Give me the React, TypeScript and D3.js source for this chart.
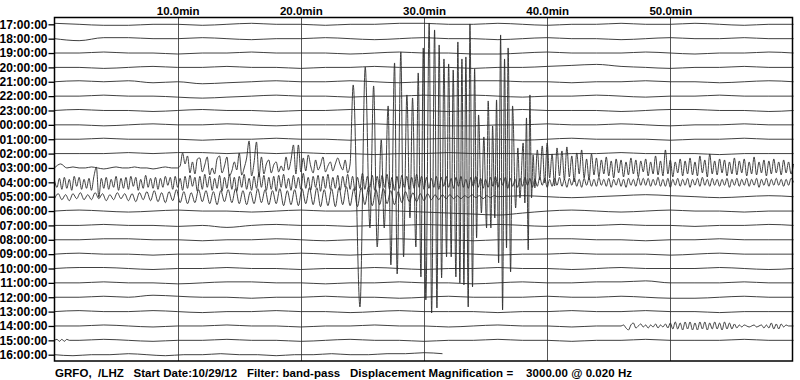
import { useEffect, useRef } from "react";
import * as d3 from "d3";

// hour rows, top to bottom
const hourLabels = [
  "17:00:00", "18:00:00", "19:00:00", "20:00:00", "21:00:00", "22:00:00",
  "23:00:00", "00:00:00", "01:00:00", "02:00:00", "03:00:00", "04:00:00",
  "05:00:00", "06:00:00", "07:00:00", "08:00:00", "09:00:00", "10:00:00",
  "11:00:00", "12:00:00", "13:00:00", "14:00:00", "15:00:00", "16:00:00",
];
const minuteTicks = [10, 20, 30, 40, 50];
const footer =
  "GRFO,  /LHZ   Start Date:10/29/12   Filter: band-pass   Displacement Magnification =    3000.00 @ 0.020 Hz";

// quiet hours, one sample every 2 min (0..60)
const h17 = [1, 0, -1, -1, 0, 0, -1, 0, 1, 0, 0, -1, 0, 0, 1, 1, 0, 0, 1, 0, -1, 0, 0, 1, 0, 0, 1, 0, -1, 0, 0];
const h18 = [0, -2, 1, 1, 0, 0, 1, 0, -1, 0, 0, 1, 0, -1, 0, 1, 0, 0, -1, 0, 1, 0, 0, -1, 0, 1, 0, 0, 1, 0, 0];
const h19 = [0, 0, 1, 0, 0, -1, 0, 0, 1, 0, 0, 0, -1, 0, 1, 0, 0, -1, -1, 0, 1, 0, 0, 0, 1, 0, -1, 0, 0, 1, 0];
const h20 = [0, 0, -1, 0, 1, 0, 0, 1, 0, 0, -1, 0, 0, 1, 0, 0, 0, -1, 0, 0, 1, 2, 3, 1, 0, -1, 0, 0, 1, 0, 0];
const h21 = [0, 1, 0, 1, -1, 0, -2, -1, 0, 1, 0, 0, 1, 0, -1, 0, 0, 1, 1, 0, 0, -1, 0, 0, 1, 0, 0, -1, 0, 1, 0];
const h22 = [0, 0, 1, 0, 0, -1, -2, -1, 0, 1, 0, 0, -1, 0, 0, 1, 0, 1, 0, -1, 0, 0, 1, 0, -1, 0, 0, 1, 0, 0, 0];
const h23 = [0, 1, 0, 0, -1, 0, 1, 0, 0, -1, 0, 0, 1, 1, 0, 0, -1, 0, 0, 1, 0, 0, 0, -1, 0, 1, 1, 0, 0, -1, 0];
const h00 = [0, 0, -1, 0, 1, 0, 0, 1, 0, -1, 0, 0, 0, 1, 0, 0, -1, -1, 0, 0, 1, 0, 0, 1, 0, -1, 0, 0, 1, 0, 0];
const h01 = [0, 0, 1, 0, 0, 0, -1, 0, 0, 1, 0, 0, -1, 0, 0, 0, 1, 0, 0, -1, 0, 1, 0, 0, 0, -1, 0, 0, 1, 0, 0];
const h02 = [0, 0, 0, 1, 0, 1, 1, 0, 1, 0, 1, 0, 0, -1, 0, 0, 1, 0, 0, 0, -1, 0, 0, 1, 0, 0, 0, -1, 0, 0, 0];
const h06 = [0, 1, 0, -1, 0, 1, 0, 0, -1, 0, 1, 0, 0, 1, 0, -1, -2, -3, -4, -2, 0, 1, 0, -1, 0, 1, 0, 0, -1, 0, 0];
const h07 = [0, 0, 1, 0, 0, -1, 0, -2, 0, 1, 0, 0, -1, 0, 0, 1, 0, 0, 1, 0, -1, 0, 0, 1, 0, 0, -1, 0, 0, 1, 0];
const h08 = [0, 0, 1, 1, 0, 0, -1, 0, 0, 1, 0, -1, 0, 0, 1, 0, 0, -1, 0, 0, 1, 1, 0, 0, -1, 0, 0, 1, 0, 0, 0];
const h09 = [0, 1, 0, 0, -1, 0, 0, 1, 0, 0, 1, 0, -1, 0, 0, 0, 1, 0, -1, 0, 0, 1, 0, 0, 0, -1, 0, 1, 0, 0, 0];
const h10 = [0, 1, 1, 0, -1, 0, 0, 1, 0, 0, -1, 0, 0, 1, 0, -1, 0, 0, 1, 0, 0, -1, 0, 1, 0, 0, 0, 1, 0, -1, 0];
const h11 = [0, 0, 1, 0, 0, -1, 0, 1, 1, 0, 0, -1, 0, 0, 1, 0, 0, -1, 0, 1, 0, 0, 1, 1, 2, 0, 0, 0, 1, 0, 0];
const h12 = [0, 0, 1, 0, 2, 1, 0, 0, -1, 0, 0, 1, 0, 0, -1, 0, 1, 0, 0, 0, 1, 0, 0, 1, 0, -1, -1, 0, 1, 0, 0];
const h13 = [0, 1, 0, 0, 1, 0, -1, 0, 0, 1, 0, 0, -1, 0, 1, 0, 0, 0, -1, 0, 0, 1, 0, 0, 1, 0, 0, -1, 0, 0, 0];

// 03:00 hour: quiet start (every 0.5 min, 0..9.5)
const h03quiet = [0, 4, 0, 1, 0, 0, 1, 0, -1, 0, 1, 0, 0, 1, 0, 0, -1, 0, 1, 0];
// 03:00 body waves, every 0.2 min from 10.0
const h03body = [
  0, 2, 15, 4, 12, -5, 6, -6, 9, 10,
  -4, 3, 11, -7, 0, -6, 9, 12, -5, 2,
  11, -8, -3, 6, -2, 15, -7, 0, 10, 27,
  -8, 5, 26, -9, 11, -6, 4, 8, -5, 3,
  6, -4, 2, -3, 11, -2, 8, 23, -6, 23,
  -4, 10, -3, 13, 2, -5, 8, -2, 3, 11,
  -4, 2, 6, -3, 4, 10, 3, -2, 8, -5, 4,
];
// 03:00 surface waves: [minute, displacement] peaks and troughs
const h03surface: [number, number][] = [
  [24.25, 83], [24.8, -139], [25.23, 101], [25.61, -60], [25.91, 82], [26.2, -79],
  [26.53, 28], [26.77, -60], [27.09, 62], [27.31, -97], [27.61, 105], [27.82, -106],
  [28.12, 116], [28.34, -89], [28.61, 73], [28.86, -50], [29.07, 70], [29.34, -79],
  [29.53, 95], [29.75, -109], [29.94, 120], [30.15, -132], [30.42, 145], [30.62, -145],
  [30.86, 138], [31.05, -140], [31.23, 123], [31.43, -110], [31.62, 109], [31.83, -89],
  [32.0, 104], [32.21, -89], [32.37, 98], [32.59, -109], [32.75, 126], [32.91, -115],
  [33.08, 109], [33.24, -117], [33.4, 111], [33.59, -139], [33.73, 144], [33.94, -119],
  [34.11, 99], [34.27, -70], [34.43, 53], [34.66, -45], [34.86, 31], [35.08, -60],
  [35.21, 67], [35.43, -60], [35.57, 42], [35.75, -50], [35.89, 68], [36.06, -95],
  [36.22, 133], [36.38, -142], [36.54, 109], [36.7, -80], [36.83, 120], [37.03, -104],
  [37.19, 62], [37.44, -40], [37.62, 20], [37.79, -30], [38.05, 25], [38.19, -35],
  [38.32, 50], [38.46, -82], [38.6, 73], [38.73, -30], [38.86, 13], [39.0, -20],
];
// 03:00 coda, every 0.2 min from 39.2
const h03coda = [
  18, -12, 22, -15, 25, -10, 14, -18, 20, -8,
  17, -12, 21, -9, 12, -14, 15, -6, 18, -10,
  9, -12, 14, -7, 10, -9, 8, -6, 11, -8,
  7, -10, 9, -5, 8, -9, 6, -7, 10, -6,
  8, -9, 7, -4, 9, -8, 6, -6, 12, -7,
  7, -8, 18, -6, 8, -9, 6, -5, 9, -8,
  7, -6, 10, -7, 6, -8, 12, -5, 8, -9,
  14, -6, 7, -7, 9, -5, 8, -8, 6, -6,
  10, -7, 7, -5, 9, -8, 6, -6, 11, -7,
  6, -5, 8, -8, 7, -6, 9, -5, 6, -7,
  8, -5, 6, -6, 4,
];

// 04:00 hour, every 0.2 min (0..60)
const h04 = [
  2, -5, 4, -7, 5, -6, 3, -8, 6, -4,
  5, -7, 3, -6, 4, -8, 6, 15, -15, 4,
  -6, 5, -7, 3, -5, 6, -8, 4, -6, 5,
  -7, 6, -4, 5, -8, 3, -6, 7, -5, 4,
  -6, 5, -7, 4, -5, 6, -3, 5, -7, 6,
  -5, 4, -8, 6, -6, 7, -4, 5, -9, 6,
  -7, 8, -5, 6, -8, 4, -6, 7, -9, 5,
  -6, 8, -7, 5, -9, 6, -5, 8, -7, 4,
  -8, 6, -6, 9, -5, 7, -8, 5, -7, 6,
  -9, 7, -5, 8, -6, 4, -8, 7, -6, 5,
  -7, 9, -6, 5, -8, 6, -5, 7, -9, 6,
  -6, 8, -7, 5, -6, 7, -8, 6, -5, 8,
  -7, 6, -8, 5, -6, 9, -7, 6, -5, 7,
  -8, 6, -6, 7, -5, 8, -7, 5, -8, 6,
  -6, 7, -5, 6, -7, 5, -6, 8, -5, 6,
  -7, 5, -6, 4, -5, 6, -7, 5, -4, 6,
  -5, 4, -6, 5, -4, 6, -5, 3, -6, 5,
  -4, 6, -5, 4, -6, 3, -5, 5, -4, 6,
  -5, 4, -3, 5, -6, 4, -4, 3, -5, 4,
  -4, 5, -3, 4, -5, 3, -4, 5, -3, 4,
  -5, 3, -4, 4, -3, 5, -4, 3, -5, 4,
  -3, 4, -4, 3, -5, 4, -3, 4, -4, 3,
  -4, 5, -3, 3, -4, 4, -5, 3, -3, 4,
  -4, 3, -5, 4, -3, 3, -4, 5, -3, 4,
  -3, 4, -4, 3, -3, 5, -4, 3, -4, 4,
  -5, 3, -3, 4, -4, 3, -3, 4, -5, 3,
  -3, 4, -4, 5, -3, 3, -4, 4, -3, 3,
  -4, 3, -3, 4, -5, 3, -3, 4, -4, 3,
  -3, 4, -4, 3, -3, 4, -5, 3, -3, 4,
  -4, 3, -3, 4, -3, 3, -4, 3, -3, 4, 0,
];

// 05:00 hour, every 0.3 min (0..36), then every 2 min (36..60)
const h05waves = [
  -2, 3, -3, 2, -4, 3, -2, 4, -3, 2,
  -3, 4, -2, 3, -4, 2, -3, 4, -2, 3,
  -4, 3, -5, 4, -3, 5, -4, 6, -5, 4,
  -6, 5, -4, 7, -6, 5, -7, 4, -6, 7,
  -5, 6, -7, 5, -8, 6, -5, 7, -6, 8,
  -7, 6, -8, 5, -7, 8, -6, 7, -8, 6,
  -7, 8, -9, 6, -8, 7, -9, 8, -7, 9,
  -8, 9, -10, 7, -9, 8, -10, 9, -8, 10,
  -9, 8, -10, 9, -8, 10, -9, 7, -8, 8,
  -7, 6, -8, 5, -6, 5, -5, 4, -5, 3,
  -4, 3, -3, 2, -3, 2, -2, 2, -2, 1,
  -2, 1, -1, 2, -1, 1, -2, 1, -1, 1, 0,
];
const h05tail = [0, 1, 0, -1, 0, 1, 2, 1, 0, -1, 0, 1, 0];

// 14:00 hour: quiet every 2 min (0..46), then a wave train every 0.2 min
const h14quiet = [0, 0, 1, 0, -1, 0, 0, 1, 0, 0, -1, 0, 0, 1, 0, 0, -1, 0, 1, 0, 0, -1, 0, 0];
const h14train = [
  0, 1, -2, -4, 1, 3, -2, 0, 2, -1,
  1, -2, 1, -1, 2, -2, 1, -1, 2, -2,
  3, -3, 4, -3, 3, -4, 4, -3, 4, -4,
  3, -4, 4, -3, 4, -4, 3, -3, 4, -3,
  3, -4, 4, -3, 3, -3, 2, -2, 1, -1,
  1, 0, -1, 0, 1, -1, 0, 1, -2, 1,
  -2, 3, -3, 2, -3, 2, -1, 1, 0, 0, 0,
];

// 15:00 hour: short burst at start (every 0.2 min), then every 2 min from 2
const h15start = [0, 1, -1, 1, -1, 1, 0];
const h15 = [0, 1, 0, -1, 0, 0, 1, 0, 0, -1, 0, 1, 0, 0, -1, 0, 0, 1, 0, 0, -1, 0, 0, 1, 0, 0, 0, 1, 0, 0];

// 16:00 hour, every 1.5 min, recording stops at ~31.5 min
const h16 = [0, -1, 0, 0, 1, 0, -1, 0, 0, 1, 0, 0, -1, 0, 0, 1, 0, 0, 1, 1, 2, 1];

type Seg = { start: number; step: number; values: number[] };
const seg = (start: number, step: number, values: number[]): Seg => ({ start, step, values });
const q = (values: number[]) => seg(0, 2, values);

const rows: { hour: string; segs: Seg[]; pairs?: [number, number][] }[] = [
  { hour: "17:00:00", segs: [q(h17)] },
  { hour: "18:00:00", segs: [q(h18)] },
  { hour: "19:00:00", segs: [q(h19)] },
  { hour: "20:00:00", segs: [q(h20)] },
  { hour: "21:00:00", segs: [q(h21)] },
  { hour: "22:00:00", segs: [q(h22)] },
  { hour: "23:00:00", segs: [q(h23)] },
  { hour: "00:00:00", segs: [q(h00)] },
  { hour: "01:00:00", segs: [q(h01)] },
  { hour: "02:00:00", segs: [q(h02)] },
  {
    hour: "03:00:00",
    segs: [seg(0, 0.5, h03quiet), seg(10, 0.2, h03body), seg(39.2, 0.2, h03coda)],
    pairs: h03surface,
  },
  { hour: "04:00:00", segs: [seg(0, 0.2, h04)] },
  { hour: "05:00:00", segs: [seg(0, 0.3, h05waves), seg(38, 2, h05tail.slice(1))] },
  { hour: "06:00:00", segs: [q(h06)] },
  { hour: "07:00:00", segs: [q(h07)] },
  { hour: "08:00:00", segs: [q(h08)] },
  { hour: "09:00:00", segs: [q(h09)] },
  { hour: "10:00:00", segs: [q(h10)] },
  { hour: "11:00:00", segs: [q(h11)] },
  { hour: "12:00:00", segs: [q(h12)] },
  { hour: "13:00:00", segs: [q(h13)] },
  { hour: "14:00:00", segs: [seg(0, 2, h14quiet), seg(46, 0.2, h14train)] },
  { hour: "15:00:00", segs: [seg(0, 0.2, h15start), seg(2, 2, h15)] },
  { hour: "16:00:00", segs: [seg(0, 1.5, h16)] },
];

const FONT = "'Liberation Sans', Arial, Helvetica, sans-serif";

export default function App() {
  const ref = useRef<SVGSVGElement | null>(null);

  useEffect(() => {
    document.body.style.margin = "0";
    if (!ref.current) return;
    const svg = d3.select(ref.current);
    svg.selectAll("*").remove();

    const width = 800;
    const height = 380;
    const box = { left: 54.5, top: 17.5, right: 792.5, bottom: 361 };

    const x = d3.scaleLinear().domain([0, 60]).range([box.left, 793.5]);
    const y = d3.scalePoint<string>().domain(hourLabels).range([24.3, 354.7]);
    // displacement -> pixel offset from the hour baseline
    const amp = d3.scaleLinear().domain([-100, 100]).range([100, -100]);

    svg.attr("width", width).attr("height", height).attr("viewBox", `0 0 ${width} ${height}`);
    svg.append("rect").attr("width", width).attr("height", height).attr("fill", "#fff");

    // vertical minute lines
    svg
      .append("g")
      .selectAll("line")
      .data(minuteTicks)
      .join("line")
      .attr("x1", (d) => Math.round(x(d)) + 0.5)
      .attr("x2", (d) => Math.round(x(d)) + 0.5)
      .attr("y1", box.top)
      .attr("y2", box.bottom)
      .attr("stroke", "#555")
      .attr("stroke-width", 1);

    // traces
    const line = d3
      .line<[number, number]>()
      .x((d) => x(d[0]))
      .y((d) => d[1])
      .curve(d3.curveMonotoneX);

    const g = svg.append("g").attr("fill", "none").attr("stroke", "#2b2b2b").attr("stroke-width", 0.9);
    rows.forEach((row) => {
      const base = y(row.hour)!;
      let pts: [number, number][] = [];
      row.segs.forEach((s) => {
        s.values.forEach((v, i) => pts.push([s.start + i * s.step, v]));
      });
      if (row.pairs) pts = pts.concat(row.pairs);
      pts.sort((a, b) => a[0] - b[0]);
      g.append("path")
        .attr("d", line(pts.map(([t, v]) => [t, base + amp(v)] as [number, number])))
        .attr("stroke-linejoin", "round");
    });

    // frame
    svg
      .append("rect")
      .attr("x", box.left)
      .attr("y", box.top)
      .attr("width", box.right - box.left)
      .attr("height", box.bottom - box.top)
      .attr("fill", "none")
      .attr("stroke", "#000")
      .attr("stroke-width", 1.5);

    // hour axis
    svg
      .append("g")
      .attr("transform", `translate(${box.left},0)`)
      .call(d3.axisLeft(y).tickSize(6).tickPadding(1))
      .call((a) => a.select(".domain").remove())
      .call((a) => a.selectAll("line").attr("stroke", "#000").attr("stroke-width", 1.3))
      .call((a) =>
        a
          .selectAll("text")
          .attr("fill", "#000")
          .style("font-family", FONT)
          .style("font-size", "12px")
          .style("font-weight", "bold")
      );

    // minute labels
    svg
      .append("g")
      .attr("transform", `translate(0,${box.top})`)
      .call(
        d3
          .axisTop(x)
          .tickValues(minuteTicks)
          .tickSize(0)
          .tickPadding(3)
          .tickFormat((d) => `${(d as number).toFixed(1)}min`)
      )
      .call((a) => a.select(".domain").remove())
      .call((a) =>
        a
          .selectAll("text")
          .attr("fill", "#000")
          .style("font-family", FONT)
          .style("font-size", "11.5px")
          .style("font-weight", "bold")
      );

    svg
      .append("text")
      .attr("x", 55)
      .attr("y", 377)
      .attr("fill", "#000")
      .attr("textLength", 577)
      .attr("lengthAdjust", "spacing")
      .style("font-family", FONT)
      .style("font-size", "11.5px")
      .style("font-weight", "bold")
      .style("white-space", "pre")
      .text(footer);
  }, []);

  return <svg ref={ref} style={{ display: "block" }} />;
}
